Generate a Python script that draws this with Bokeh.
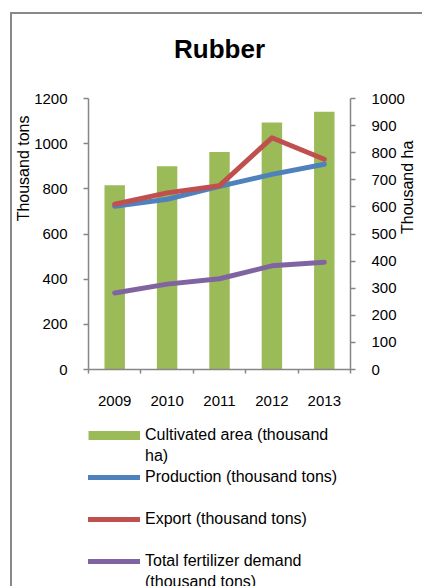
import math
from bokeh.plotting import figure
from bokeh.layouts import column
from bokeh.models import (Range1d, LinearAxis, FixedTicker, Legend, LegendItem, Title,
                          ColumnDataSource)
from bokeh.embed import file_html
from bokeh.resources import INLINE

years = ["2009", "2010", "2011", "2012", "2013"]
cultivated_area = [680, 750, 803, 911, 951]      # thousand ha (right axis)
production = [723, 754, 811, 864, 909]           # thousand tons
export = [732, 782, 814, 1026, 931]              # thousand tons
fertilizer = [339, 378, 402, 459, 475]           # thousand tons
left_ticks = [0, 200, 400, 600, 800, 1000, 1200]
right_ticks = [0, 100, 200, 300, 400, 500, 600, 700, 800, 900, 1000]
# legend text, one entry per printed line (None = continuation / empty row)
legend_rows = [("Cultivated area (thousand", "area"), ("ha)", None),
               ("Production (thousand tons)", "prod"), (" ", None),
               ("Export (thousand tons)", "exp"), (" ", None),
               ("Total fertilizer demand", "fert"), ("(thousand tons)", None)]

FONT = "Liberation Sans"
AXIS_GRAY = "#868686"
C_AREA, C_PROD, C_EXP, C_FERT = "#9BBB59", "#4F81BD", "#C0504D", "#8064A2"

idx = list(range(len(years)))
src = ColumnDataSource(dict(x=idx, year=years, area=cultivated_area, prod=production,
                            exp=export, fert=fertilizer))

# ---------------- main chart ----------------
p = figure(width=406, height=410, frame_width=262, frame_height=271,
           min_border_left=75, min_border_right=69, min_border_top=84, min_border_bottom=55,
           x_range=Range1d(-0.5, len(years) - 0.5), y_range=Range1d(left_ticks[0], left_ticks[-1]),
           output_backend="svg", toolbar_location=None, background_fill_color="white",
           border_fill_color="white", outline_line_color=None)
p.extra_y_ranges = {"ha": Range1d(right_ticks[0], right_ticks[-1])}
p.xgrid.visible = False
p.ygrid.visible = False

p.title.text = "Rubber"
p.title.align = "center"
p.title.text_font = FONT
p.title.text_font_size = "26px"
p.title.text_font_style = "bold"
p.title.text_color = "black"
p.title.standoff = 10

# blank spacer axis (white tick, empty label) between the frame and the title
spacer = LinearAxis(ticker=FixedTicker(ticks=[idx[0]], minor_ticks=[]), axis_line_color=None,
                    major_tick_line_color="white", minor_tick_line_color=None,
                    major_tick_out=30, major_tick_in=0, minor_tick_out=0, minor_tick_in=0,
                    major_label_standoff=0, major_label_overrides={idx[0]: ""},
                    major_label_text_font_size="0px")
p.add_layout(spacer, "above")

bars = p.vbar(x="x", top="area", width=0.39, source=src, y_range_name="ha",
              fill_color=C_AREA, line_color=None)
l_prod = p.line(x="x", y="prod", source=src, line_color=C_PROD, line_width=5,
                line_cap="round", line_join="round")
l_exp = p.line(x="x", y="exp", source=src, line_color=C_EXP, line_width=5,
               line_cap="round", line_join="round")
l_fert = p.line(x="x", y="fert", source=src, line_color=C_FERT, line_width=5,
                line_cap="round", line_join="round")

# x axis: labels at category centres, ticks at category boundaries
xa = p.below[0]
xa.ticker = FixedTicker(ticks=idx, minor_ticks=[i - 0.5 for i in range(len(years) + 1)])
xa.major_label_overrides = {i: y for i, y in enumerate(years)}
xa.major_tick_out = 0
xa.major_tick_in = 0
xa.minor_tick_out = 4
xa.minor_tick_in = 0
xa.minor_tick_line_color = AXIS_GRAY
xa.axis_line_color = AXIS_GRAY
xa.axis_line_width = 1.5
xa.minor_tick_line_width = 1.5
xa.major_label_standoff = 22
xa.major_label_text_font = FONT
xa.major_label_text_font_size = "15px"
xa.major_label_text_color = "black"

ya = p.left[0]
ya.ticker = FixedTicker(ticks=left_ticks, minor_ticks=[])

ra = LinearAxis(y_range_name="ha", ticker=FixedTicker(ticks=right_ticks, minor_ticks=[]),
                axis_label="Thousand ha")
p.add_layout(ra, "right")
for ax in (ya, ra):
    ax.major_tick_out = 5
    ax.major_tick_in = 0
    ax.minor_tick_out = 0
    ax.minor_tick_in = 0
    ax.major_tick_line_color = AXIS_GRAY
    ax.major_tick_line_width = 1.5
    ax.axis_line_color = AXIS_GRAY
    ax.axis_line_width = 1.5
    ax.major_label_standoff = 16
    ax.major_label_text_font = FONT
    ax.major_label_text_font_size = "15px"
    ax.major_label_text_color = "black"
ra.axis_label_standoff = 0
ra.axis_label_text_font = FONT
ra.axis_label_text_font_size = "16px"
ra.axis_label_text_font_style = "normal"
ra.axis_label_text_color = "black"
ra.axis_label_orientation = math.pi / 2

# left axis title, placed near the top of the axis as in the reference
p.add_layout(Title(text="Thousand tons", align="right", offset=17, standoff=0,
                   text_font=FONT, text_font_size="16px", text_font_style="normal",
                   text_color="black"), "left")

# ---------------- legend strip ----------------
pl = figure(width=406, height=162, min_border=0, x_range=Range1d(-2, -1), y_range=Range1d(-2, -1),
            x_axis_location=None, y_axis_location=None, output_backend="svg",
            toolbar_location=None, background_fill_color="white", border_fill_color="white",
            outline_line_color=None)
pl.xgrid.visible = False
pl.ygrid.visible = False
# legend keys (their data lies outside this strip's visible ranges)
keys = {
    "area": pl.line(x=idx, y=cultivated_area, line_color=C_AREA, line_width=9, line_cap="butt"),
    "prod": pl.line(x=idx, y=production, line_color=C_PROD, line_width=5, line_cap="round"),
    "exp": pl.line(x=idx, y=export, line_color=C_EXP, line_width=5, line_cap="round"),
    "fert": pl.line(x=idx, y=fertilizer, line_color=C_FERT, line_width=5, line_cap="round"),
}
blank = pl.line(x=idx, y=fertilizer, line_alpha=0)

legend = Legend(items=[LegendItem(label=t, renderers=[keys[k] if k else blank])
                       for t, k in legend_rows],
                location=(0, -6), orientation="vertical", margin=0, padding=0,
                border_line_color=None, background_fill_alpha=0, glyph_width=52,
                glyph_height=20, label_height=20, label_standoff=5, spacing=1,
                label_text_font=FONT, label_text_font_size="16px", label_text_color="black")
pl.add_layout(legend, "center")

layout = column(p, pl, spacing=0)
layout.margin = (12, 0, 0, 10)
layout.styles = {"border-top": "2px solid #898989", "border-left": "2px solid #898989",
                 "border-right": "2px solid #898989"}

open("out.html", "w").write(file_html(layout, INLINE))
